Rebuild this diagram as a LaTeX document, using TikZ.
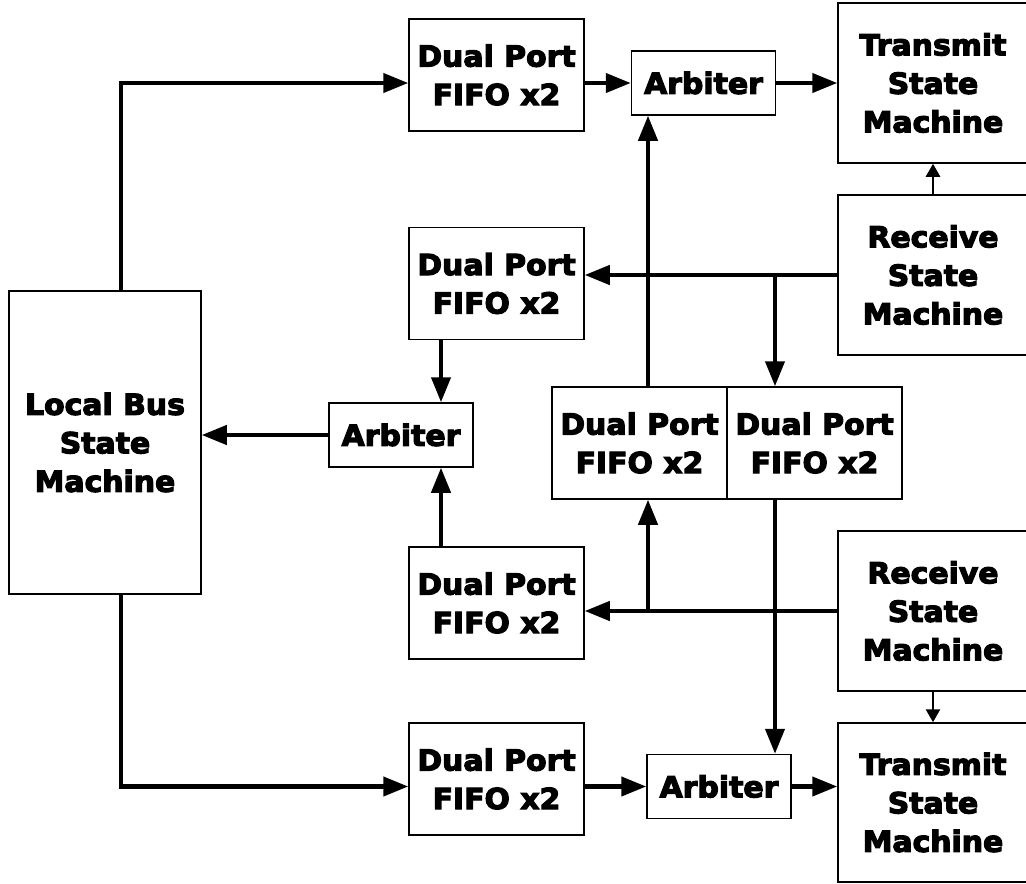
\documentclass[tikz,border=0pt]{standalone}
\usepackage{fontspec}
\newfontfamily\blockfont{DejaVu Sans}[FakeStretch=1.03, FakeBold=4]
\usetikzlibrary{arrows.meta}

\begin{document}
\begin{tikzpicture}[x=1pt, y=-1pt, >={Triangle[length=25pt,width=19pt]},
  box/.style={draw, line width=1.5pt, inner sep=0pt, align=center, font=\blockfont\bfseries\fontsize{29}{38.5}\selectfont},
  fifo/.style={box, minimum width=175pt, minimum height=112pt},
  arb/.style={box, minimum width=144pt, minimum height=64pt},
  sm/.style={box, minimum width=190pt, minimum height=160pt},
  link/.style={->, line width=4.2pt},
  hop/.style={-{Triangle[length=13pt,width=14pt]}, line width=2.6pt}]
\clip (0,0) rectangle (1026,884);
\node[sm] (txA) at (933,83) {Transmit\\State\\Machine};
\node[sm] (rxA) at (933,275) {Receive\\State\\Machine};
\node[sm] (rxB) at (933,611) {Receive\\State\\Machine};
\node[sm, minimum height=159pt] (txB) at (933,802.5) {Transmit\\State\\Machine};
\node[box, minimum width=192pt, minimum height=303pt] (lbus) at (105,442.5) {Local Bus\\State\\Machine};
\node[fifo] (fifoA) at (496.5,75) {Dual Port\\FIFO x2};
\node[fifo] (fifoB) at (496.5,283.5) {Dual Port\\FIFO x2};
\node[fifo] (fifoC) at (496.5,603) {Dual Port\\FIFO x2};
\node[fifo] (fifoD) at (496.5,779) {Dual Port\\FIFO x2};
\node[fifo] (fifoL) at (639.5,443) {Dual Port\\FIFO x2};
\node[fifo] (fifoR) at (814.5,443) {Dual Port\\FIFO x2};
\node[arb] (arbA) at (703.5,83) {Arbiter};
\node[arb] (arbM) at (401,435) {Arbiter};
\node[arb] (arbC) at (719,786.5) {Arbiter};
\coordinate (tapA) at (775,275);
\coordinate (tapB) at (648,611);
\coordinate (busM) at (441,435);
\draw[link] ([xshift=16pt]lbus.north) |- (fifoA.west |- arbA);
\draw[link] (fifoA.east |- arbA) -- (arbA.west);
\draw[link] (arbA.east) -- (txA.west);
\draw[hop] (rxA.north) -- (txA.south);
\draw[link] (rxA.west) -- (fifoB.east |- rxA);
\draw[link] (tapA) -- (tapA |- fifoR.north);
\draw[link] (tapB |- fifoL.north) -- (tapB |- arbA.south);
\draw[link] (busM |- fifoB.south) -- (busM |- arbM.north);
\draw[link] (arbM.west) -- (lbus.east |- arbM);
\draw[link] (busM |- fifoC.north) -- (busM |- arbM.south);
\draw[link] (rxB.west) -- (fifoC.east |- rxB);
\draw[link] (tapB) -- (tapB |- fifoL.south);
\draw[link] (tapA |- fifoR.south) -- (tapA |- arbC.north);
\draw[link] ([xshift=16pt]lbus.south) |- (fifoD.west |- arbC);
\draw[link] (fifoD.east |- arbC) -- (arbC.west);
\draw[link] (arbC.east) -- (txB.west |- arbC);
\draw[hop] (rxB.south) -- (txB.north);
\end{tikzpicture}
\end{document}
